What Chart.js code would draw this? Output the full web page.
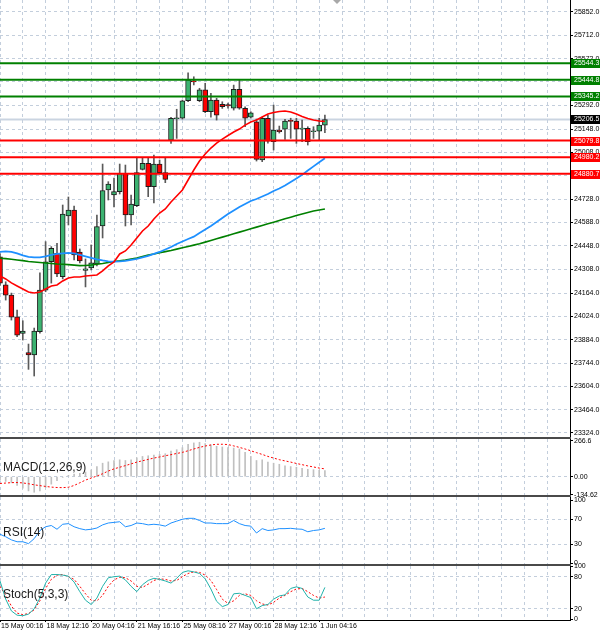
<!DOCTYPE html>
<html>
<head>
<meta charset="utf-8">
<title>Chart</title>
<script src="https://cdn.jsdelivr.net/npm/chart.js@4/dist/chart.umd.min.js"></script>
<style>
html,body{margin:0;padding:0;background:#fff;}
#wrap{position:relative;width:600px;height:634px;overflow:hidden;background:#fff}
.box{position:absolute;left:0;width:600px}
.sep{position:absolute;left:0;width:571px;height:2px;background:#4a4a4a}
</style>
</head>
<body>
<div id="wrap">
  <div class="box" style="top:0;height:437px"><canvas id="cMain" width="600" height="437"></canvas></div>
  <div class="box" style="top:433px;height:68px"><canvas id="cMacd" width="600" height="68"></canvas></div>
  <div class="box" style="top:493px;height:75px"><canvas id="cRsi" width="600" height="75"></canvas></div>
  <div class="box" style="top:562px;height:72px"><canvas id="cStoch" width="600" height="72"></canvas></div>
  <div class="sep" style="top:437px"></div>
  <div class="sep" style="top:495px"></div>
  <div class="sep" style="top:564px"></div>
</div>
<script>
// ---------------- DATA ----------------
const OPEN  = [24382,24213,24152,24022,23922,23806,23792,23932,24182,24352,24403,24262,24627,24663,24411,24300,24315,24339,24567,24783,24753,24773,24883,24633,24689,24907,24943,24803,24939,24887,25083,25211,25214,25319,25438,25319,25384,25253,25323,25298,25296,25274,25388,25274,25220,25193,24963,25214,25074,25143,25148,25197,25197,25149,25154,25133,25137,25173];
const HIGH  = [24400,24232,24164,24062,23998,23858,23954,24285,24473,24443,24463,24693,24741,24687,24429,24369,24453,24633,24939,24833,24855,24939,24933,24753,24975,24975,24975,24993,24963,24977,25220,25268,25323,25487,25463,25394,25424,25364,25334,25313,25305,25413,25444,25283,25253,25209,25221,25233,25293,25167,25208,25214,25214,25203,25163,25163,25214,25233];
const LOW   = [24210,24122,24002,23902,23882,23706,23666,23924,24172,24224,24262,24249,24573,24363,24345,24201,24303,24327,24495,24723,24681,24759,24567,24573,24683,24903,24743,24705,24883,24827,25063,25093,25209,25313,25414,25313,25247,25220,25203,25273,25275,25263,25268,25163,25215,24957,24953,25065,25023,25125,25087,25093,25063,25073,25053,25093,25083,25127];
const CLOSE = [24223,24152,24019,23912,23936,23792,23936,24182,24352,24433,24279,24639,24663,24393,24357,24309,24345,24564,24780,24819,24773,24883,24633,24699,24887,24943,24803,24939,24887,24847,25214,25217,25319,25444,25432,25384,25253,25323,25233,25283,25288,25388,25274,25214,25247,24967,25214,25077,25143,25133,25197,25195,25148,25154,25073,25137,25173,25206.5];

const MA_FAST = [24267,24249,24225,24207,24189,24171,24165,24171,24189,24207,24213,24237,24255,24261,24261,24267,24270,24273,24297,24327,24351,24399,24417,24453,24495,24537,24567,24609,24645,24669,24711,24747,24783,24843,24903,24957,24999,25035,25065,25089,25110,25131,25149,25173,25191,25203,25221,25239,25248,25254,25257,25251,25239,25224,25212,25203,25197,25194];
const MA_MID  = [24412,24414,24411,24402,24390,24381,24378,24378,24384,24393,24399,24402,24405,24402,24393,24384,24375,24366,24360,24355,24353,24354,24357,24363,24369,24378,24387,24399,24411,24426,24441,24459,24474,24489,24503,24525,24546,24567,24591,24615,24639,24660,24681,24699,24717,24729,24744,24759,24777,24792,24810,24831,24852,24874,24900,24925,24950,24973];
const MA_SLOW = [24373,24371,24367,24363,24359,24354,24351,24348,24345,24342,24339,24337,24335,24332,24329,24330,24333,24337,24342,24348,24354,24358,24363,24369,24375,24384,24393,24399,24406,24413,24420,24428,24436,24444,24452,24460,24470,24480,24490,24500,24510,24520,24530,24540,24550,24560,24570,24580,24590,24600,24610,24620,24630,24639,24648,24657,24663,24669];

const LEVELS_RESIST  = [25544.3, 25444.8, 25345.2];
const LEVELS_SUPPORT = [25079.8, 24980.2, 24880.7];
const BID = 25206.5;

const PRICE_TICKS = [25852,25712,25572,25432,25292,25148,25008,24868,24728,24588,24448,24308,24164,24024,23884,23744,23604,23464,23324];
const TIME_LABELS = ['15 May 00:16','18 May 12:16','20 May 04:16','21 May 16:16','25 May 08:16','27 May 00:16','28 May 12:16','1 Jun 04:16'];

const MACD_HIST   = [-25,-35,-45,-65,-85,-105,-115,-105,-80,-55,-30,-5,10,20,25,35,50,75,100,110,120,125,120,125,140,150,155,160,165,170,190,200,215,240,250,255,245,235,225,220,215,212,205,180,150,120,125,108,100,92,80,75,70,62,55,52,48,46];
const MACD_SIGNAL = [-50,-47,-44,-43,-46,-52,-60,-66,-72,-77,-80,-81,-78,-65,-45,-25,-10,5,22,42,58,70,82,95,108,118,128,138,146,155,163,172,180,192,205,217,227,235,240,240,238,228,217,205,192,178,165,150,138,126,117,108,98,89,80,72,64,58];
const MACD_TICKS = [266.6, 0, -134.62];
const MACD_TICK_LABELS = ['266.6', '0.00', '-134.62'];

const RSI = [46,42,37,34,34,31,39,52,58,60,54,62,63,58,55,53,54,56,61,64,65,66,58,60,64,63,61,62,61,59,64,67,70,71.5,71.5,68,64,64,63,63,63,68,63,60,59,48,55,52,53,55,55,55.5,54.5,54,50,52,53,55.5];
const RSI_TICKS = [100, 70, 30, 0];
const RSI_LEVELS = [70, 30];

const STOCH_MAIN   = [72,38,16,8,7,10,20,40,68,84,84,83,81,70,52,36,28,40,62,78,80,81,74,62,52,65,73,77,75,72,68,77,88,91,89,86,76,57,34,24,28,48,49,45,41,20,26,28,38,44,46,58,61,58,42,36,36,60];
const STOCH_SIGNAL = [62,45,25,12,9,11,18,35,58,75,83,84,80,75,62,48,36,35,45,62,74,79,78,72,62,60,66,73,76,75,72,73,80,86,89,88,83,73,56,38,30,35,45,48,45,35,29,27,32,40,45,52,57,58,52,45,40,42];
const STOCH_TICKS = [100, 80, 20, 0];
const STOCH_LEVELS = [80, 20];

const PANEL_NAMES = ['MACD(12,26,9)', 'RSI(14)', 'Stoch(5,3,3)'];

// ---------------- LAYOUT / STYLE ----------------
const X_MIN = 0, X_MAX = 100, GRID_STEP = 4, LABEL_STEP = 8, SHIFT_MARK = 59.1;
const GRID_COLOR = '#C3CEDC';
const BULL = '#3CB371', BEAR = '#FF0000', OUTLINE = '#1e1e1e', WICK = '#5a5a5a';
const CLEAR = 'rgba(0,0,0,0)';

Chart.defaults.font.family = '"Liberation Sans", Arial, sans-serif';
Chart.defaults.font.size = 7;
Chart.defaults.color = '#000';
Chart.defaults.animation = false;
Chart.defaults.elements.point.radius = 0;
Chart.defaults.elements.line.tension = 0;
Chart.defaults.plugins.legend.display = false;
Chart.defaults.plugins.tooltip.enabled = false;

const idx = OPEN.map((_, i) => i);
const pts = arr => arr.map((v, i) => ({x: i, y: v}));
const hline = v => [{x: X_MIN, y: v}, {x: X_MAX, y: v}];

function zeroPad(s) { s.paddingTop = 0; s.paddingBottom = 0; s.paddingLeft = 0; s.paddingRight = 0; }
function gridTicks(s) { const t = []; for (let v = X_MIN; v <= X_MAX; v += GRID_STEP) t.push({value: v}); s.ticks = t; }

function hiddenX() {
  return {
    type: 'linear', min: X_MIN, max: X_MAX, offset: false,
    grid: {display: true, offset: false, color: GRID_COLOR, drawTicks: false, lineWidth: 1},
    border: {display: false, dash: [3, 3]},
    ticks: {display: false, autoSkip: false},
    afterBuildTicks: gridTicks,
    afterFit(s) { s.height = 0; zeroPad(s); }
  };
}
const isLabelTick = v => v % LABEL_STEP === 0 && v / LABEL_STEP < TIME_LABELS.length;
function labelX() {
  return {
    type: 'linear', min: X_MIN, max: X_MAX, offset: false,
    grid: {display: true, offset: false, color: GRID_COLOR, drawTicks: true, tickLength: 2,
           tickColor: c => (c.tick && isLabelTick(c.tick.value)) ? '#000' : CLEAR, tickBorderDash: []},
    border: {display: true, color: '#000', width: 1, dash: [3, 3]},
    ticks: {display: true, autoSkip: false, maxRotation: 0, minRotation: 0, align: 'start', padding: 0, labelOffset: 1,
            font: {size: 7}, color: '#000',
            callback: v => isLabelTick(v) ? TIME_LABELS[v / LABEL_STEP] : ''},
    afterBuildTicks: gridTicks,
    afterFit(s) { s.height = 14; zeroPad(s); }
  };
}
function rightY(min, max, ticks, fmt, gridShow) {
  return {
    position: 'right', min, max,
    grid: {color: c => (c.tick && gridShow(c.tick.value)) ? GRID_COLOR : CLEAR,
           drawTicks: true, tickLength: 3, tickColor: '#000', tickBorderDash: [], tickWidth: 1},
    border: {display: true, color: '#000', width: 1, dash: [3, 3]},
    ticks: {autoSkip: false, padding: 1, color: '#000', font: {size: 7}, callback: fmt},
    afterBuildTicks(s) { s.ticks = ticks.map(v => ({value: v})); },
    afterFit(s) { s.width = 30; zeroPad(s); }
  };
}

const panelLabel = {
  id: 'panelLabel',
  afterDraw(chart, args, opts) {
    if (!opts || !opts.text) return;
    const ctx = chart.ctx;
    ctx.save();
    ctx.font = '12px "Liberation Sans", Arial, sans-serif';
    ctx.fillStyle = '#1a1a1a';
    ctx.textBaseline = 'middle';
    ctx.fillText(opts.text, chart.chartArea.left + 3, chart.chartArea.top + opts.dy);
    ctx.restore();
  }
};

const priceBoxes = {
  id: 'priceBoxes',
  afterDraw(chart) {
    const {ctx, chartArea} = chart;
    const y = chart.scales.y, x = chart.scales.x;
    const items = [].concat(
      LEVELS_RESIST.map(v => [v, '#008000']),
      [[BID, '#000000']],
      LEVELS_SUPPORT.map(v => [v, '#FF0000']));
    ctx.save();
    ctx.font = '7px "Liberation Sans", Arial, sans-serif';
    ctx.textBaseline = 'middle';
    items.forEach(([v, c]) => {
      const py = Math.round(y.getPixelForValue(v));
      ctx.fillStyle = c;
      ctx.fillRect(chartArea.right + 1, py - 4, 29, 9);
      ctx.fillStyle = '#fff';
      ctx.fillText(v.toFixed(1), chartArea.right + 4, py + 0.5);
    });
    // chart shift marker
    const sx = Math.round(x.getPixelForValue(SHIFT_MARK));
    ctx.fillStyle = '#A8A8A8';
    ctx.beginPath();
    ctx.moveTo(sx - 4, chartArea.top); ctx.lineTo(sx + 4, chartArea.top); ctx.lineTo(sx, chartArea.top + 4);
    ctx.closePath(); ctx.fill();
    ctx.restore();
  }
};

// ---------------- MAIN CHART ----------------
const levelDatasets = [].concat(
  LEVELS_RESIST.map(v => ({type: 'line', data: hline(v), borderColor: '#008000', borderWidth: 2, order: 0})),
  LEVELS_SUPPORT.map(v => ({type: 'line', data: hline(v), borderColor: '#FF0000', borderWidth: 2, order: 0})),
  [{type: 'line', data: hline(BID), borderColor: 'rgba(196,207,222,0.9)', borderWidth: 2, order: 9}]
);

new Chart(document.getElementById('cMain'), {
  type: 'bar',
  data: {
    datasets: [
      {type: 'bar', data: idx.map(i => ({x: i, y: [LOW[i], HIGH[i]]})), backgroundColor: WICK,
       barThickness: 1, grouped: false, order: 6},
      {type: 'bar', data: idx.map(i => ({x: i, y: [OPEN[i], CLOSE[i]]})),
       backgroundColor: idx.map(i => CLOSE[i] >= OPEN[i] ? BULL : BEAR),
       borderColor: OUTLINE, borderWidth: 1, borderSkipped: false, barThickness: 5, minBarLength: 1,
       grouped: false, order: 5},
      {type: 'line', data: pts(MA_SLOW), borderColor: '#008000', borderWidth: 1.6, order: 3},
      {type: 'line', data: pts(MA_MID), borderColor: '#1E90FF', borderWidth: 1.8, order: 2},
      {type: 'line', data: pts(MA_FAST), borderColor: '#FF0000', borderWidth: 1.6, order: 1}
    ].concat(levelDatasets)
  },
  options: {
    responsive: false, devicePixelRatio: 1,
    layout: {padding: 0},
    scales: {
      x: hiddenX(),
      y: rightY(23299.8, 25924, PRICE_TICKS, v => Number(v).toFixed(1), () => true)
    }
  },
  plugins: [priceBoxes]
});

// ---------------- MACD ----------------
new Chart(document.getElementById('cMacd'), {
  type: 'bar',
  data: {
    datasets: [
      {type: 'bar', data: pts(MACD_HIST), backgroundColor: '#C0C0C0', barThickness: 1, grouped: false, order: 2},
      {type: 'line', data: pts(MACD_SIGNAL), borderColor: '#FF0000', borderWidth: 1, borderDash: [2, 2], order: 1}
    ]
  },
  options: {
    responsive: false, devicePixelRatio: 1,
    layout: {padding: {top: 6, bottom: 6, left: 0, right: 0}},
    scales: {
      x: hiddenX(),
      y: rightY(-135.4, 279, MACD_TICKS, v => MACD_TICK_LABELS[MACD_TICKS.indexOf(v)] || '', v => v === 0)
    },
    plugins: {panelLabel: {text: PANEL_NAMES[0], dy: 29}}
  },
  plugins: [panelLabel]
});

// ---------------- RSI ----------------
new Chart(document.getElementById('cRsi'), {
  type: 'line',
  data: {
    datasets: [
      {data: pts(RSI), borderColor: '#1E90FF', borderWidth: 1}
    ]
  },
  options: {
    responsive: false, devicePixelRatio: 1,
    layout: {padding: {top: 4, bottom: 4, left: 0, right: 0}},
    scales: {
      x: hiddenX(),
      y: rightY(-1.6, 105.6, RSI_TICKS, v => String(v), v => RSI_LEVELS.includes(v))
    },
    plugins: {panelLabel: {text: PANEL_NAMES[1], dy: 36}}
  },
  plugins: [panelLabel]
});

// ---------------- STOCH ----------------
new Chart(document.getElementById('cStoch'), {
  type: 'line',
  data: {
    datasets: [
      {data: pts(STOCH_SIGNAL), borderColor: '#FF0000', borderWidth: 1, borderDash: [2, 2], order: 2},
      {data: pts(STOCH_MAIN), borderColor: '#20B2AA', borderWidth: 1, order: 1}
    ]
  },
  options: {
    responsive: false, devicePixelRatio: 1,
    layout: {padding: {top: 4, bottom: 0, left: 0, right: 0}},
    scales: {
      x: labelX(),
      y: rightY(-1, 100, STOCH_TICKS, v => String(v), v => STOCH_LEVELS.includes(v))
    },
    plugins: {panelLabel: {text: PANEL_NAMES[2], dy: 29}}
  },
  plugins: [panelLabel]
});
</script>
</body>
</html>
